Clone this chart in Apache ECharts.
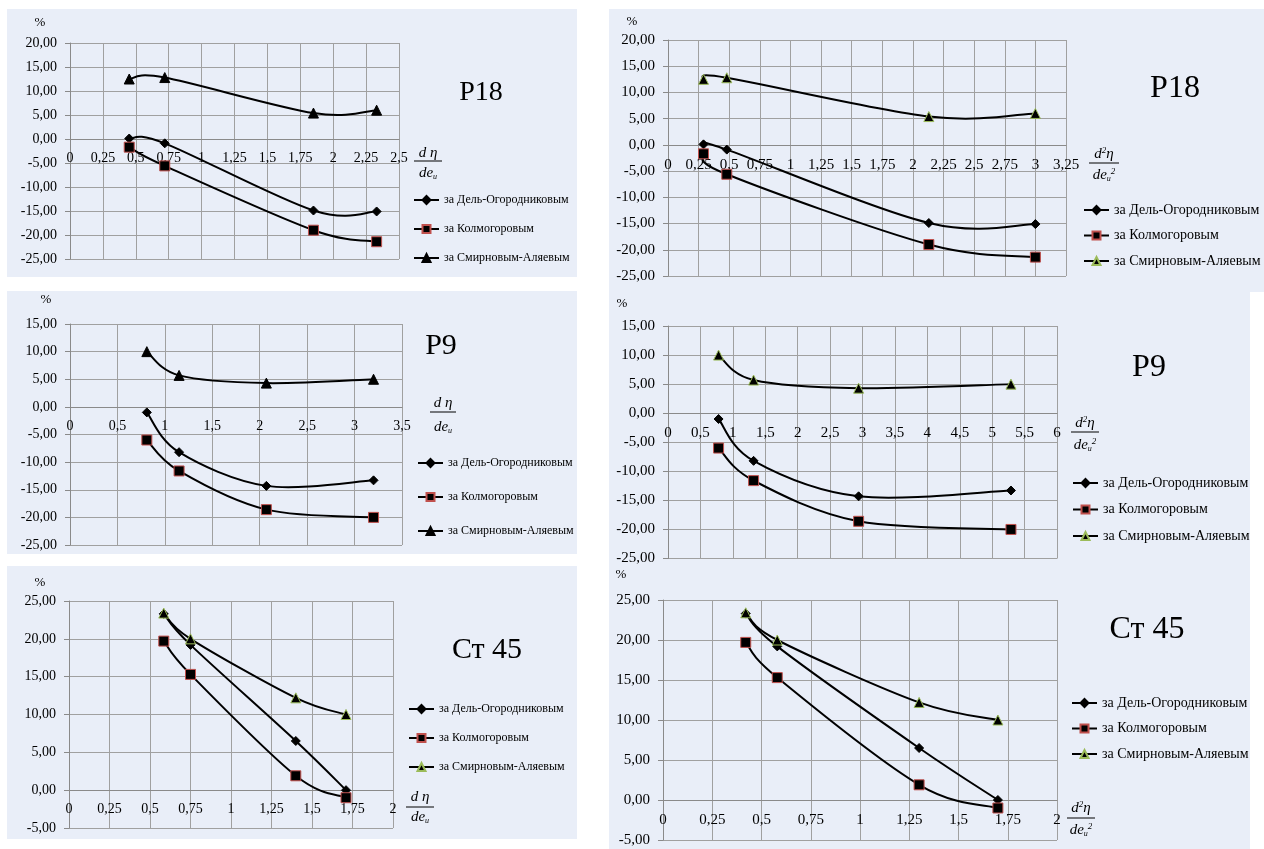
<!DOCTYPE html>
<html><head><meta charset="utf-8">
<script src="https://cdn.jsdelivr.net/npm/echarts@6/dist/echarts.min.js"></script>
<style>
html,body{margin:0;padding:0;background:#fff;width:1264px;height:849px;overflow:hidden;}
.p{position:absolute;background:#e9eef8;}
</style></head><body>
<div id="c1" class="p" style="left:7px;top:9px;width:570px;height:268px"></div>
<div id="c2" class="p" style="left:609px;top:9px;width:655px;height:283px"></div>
<div id="c3" class="p" style="left:7px;top:291px;width:570px;height:263px"></div>
<div id="c4" class="p" style="left:609px;top:292px;width:641px;height:274px"></div>
<div id="c5" class="p" style="left:7px;top:566px;width:570px;height:273px"></div>
<div id="c6" class="p" style="left:609px;top:566px;width:641px;height:283px"></div>
<script>
// ---- data ----
const SERIES_NAMES = ['за Дель-Огородниковым', 'за Колмогоровым', 'за Смирновым-Аляевым'];
const TITLES = ['Р18', 'Р9', 'Ст 45'];

const P18_X_A = [0.45, 0.72, 1.85, 2.33];
const P18_X_B = [0.29, 0.48, 2.13, 3.0];
const P18_DEL = [0.1, -0.9, -14.9, -15.1];
const P18_KOL = [-1.7, -5.6, -19.0, -21.4];
const P18_SMI = [12.5, 12.8, 5.4, 6.0];

const P9_X_A = [0.81, 1.15, 2.07, 3.2];
const P9_X_B = [0.78, 1.32, 2.94, 5.29];
const P9_DEL = [-1.0, -8.2, -14.3, -13.3];
const P9_KOL = [-6.0, -11.6, -18.6, -20.0];
const P9_SMI = [10.0, 5.7, 4.3, 5.0];

const ST45_X_A = [0.585, 0.75, 1.40, 1.71];
const ST45_X_B = [0.42, 0.58, 1.30, 1.70];
const ST45_DEL = [23.3, 19.2, 6.5, 0.0];
const ST45_KOL = [19.7, 15.3, 1.9, -1.0];
const ST45_SMI = [23.4, 20.0, 12.2, 10.0];

// axis ranges [min, max, interval]
const X_RANGE_P18_A = [0, 2.5, 0.25];
const X_RANGE_P18_B = [0, 3.25, 0.25];
const X_RANGE_P9_A = [0, 3.5, 0.5];
const X_RANGE_P9_B = [0, 6, 0.5];
const X_RANGE_ST45 = [0, 2, 0.25];
const Y_RANGE_P18 = [-25, 20, 5];
const Y_RANGE_P9 = [-25, 15, 5];
const Y_RANGE_ST45 = [-5, 25, 5];

const FONT = '"Liberation Serif", "Times New Roman", serif';

// smooth curve through the points (Excel-like Catmull-Rom), drawn via the chart's own scales
function curve(xs, ys, key) {
  const n = xs.length;
  return {
    type: 'custom', name: 'curve-' + key, silent: true, z: 1, clip: true,
    data: xs.map((x, i) => [x, ys[i]]),
    renderItem: (params, api) => {
      const i = params.dataIndex;
      if (i >= n - 1) return null;
      const P = j => { const k = Math.max(0, Math.min(n - 1, j)); return api.coord([xs[k], ys[k]]); };
      const p0 = P(i - 1), p1 = P(i), p2 = P(i + 1), p3 = P(i + 2);
      const t = 1 / 6;
      return {
        type: 'bezierCurve',
        shape: {
          x1: p1[0], y1: p1[1], x2: p2[0], y2: p2[1],
          cpx1: p1[0] + (p2[0] - p0[0]) * t, cpy1: p1[1] + (p2[1] - p0[1]) * t,
          cpx2: p2[0] - (p3[0] - p1[0]) * t, cpy2: p2[1] - (p3[1] - p1[1]) * t
        },
        style: {stroke: '#000', lineWidth: 2, fill: 'none'}
      };
    }
  };
}

function panel(id, o) {
  const chart = echarts.init(document.getElementById(id), null, {renderer: 'canvas'});
  const mk = (name, xs, ys, sym, size, border) => ({
    name, type: 'line', data: xs.map((x, i) => [x, ys[i]]), smooth: false, z: 3,
    symbol: sym, symbolSize: size, showSymbol: true,
    lineStyle: {color: '#000', width: 2, opacity: 0},
    itemStyle: {color: '#000', borderColor: border, borderWidth: 1},
    emphasis: {disabled: true}
  });
  const triBorder = o.greenTri ? '#9bbb59' : '#000';
  const rich = {
    i: {fontFamily: FONT, fontStyle: 'italic', fontSize: 15, color: '#000'},
    sup: {fontFamily: FONT, fontStyle: 'italic', fontSize: 9, color: '#000', verticalAlign: 'top'},
    sub: {fontFamily: FONT, fontStyle: 'italic', fontSize: 8, color: '#000', verticalAlign: 'bottom', padding: [6, 0, 0, 0]}
  };
  const f = o.frac;
  const gh = o.grid[3];
  const zeroOffset = -gh * (0 - o.yr[0]) / (o.yr[1] - o.yr[0]);
  const legendLine = {color: '#000', width: 2, opacity: 1};
  chart.setOption({
    animation: false,
    grid: {left: o.grid[0], top: o.grid[1], width: o.grid[2], height: o.grid[3], containLabel: false},
    xAxis: {
      type: 'value', min: o.xr[0], max: o.xr[1], interval: o.xr[2],
      position: 'bottom', offset: zeroOffset,
      axisLine: {onZero: false, lineStyle: {color: '#8a8a8a', width: 1}},
      axisTick: {show: false},
      splitLine: {show: true, lineStyle: {color: '#a0a0a0', width: 1}},
      axisLabel: {fontFamily: FONT, fontSize: o.fs, color: '#000', margin: o.xm,
        formatter: v => String(+v.toFixed(2)).replace('.', ',')}
    },
    yAxis: {
      type: 'value', min: o.yr[0], max: o.yr[1], interval: o.yr[2],
      axisLine: {show: true, onZero: false, lineStyle: {color: '#8a8a8a', width: 1}},
      axisTick: {show: true, length: 5, lineStyle: {color: '#8a8a8a'}},
      splitLine: {show: true, lineStyle: {color: '#a0a0a0', width: 1}},
      axisLabel: {fontFamily: FONT, fontSize: o.fs, color: '#000', margin: 13,
        formatter: v => v.toFixed(2).replace('.', ',')}
    },
    legend: {
      orient: 'vertical', left: o.leg[0], top: o.leg[1], itemGap: o.leg[2],
      itemWidth: 25, itemHeight: 10, padding: 0,
      lineStyle: legendLine,
      textStyle: {fontFamily: FONT, fontSize: o.lfs, color: '#000', lineHeight: 14},
      data: SERIES_NAMES.map(name => ({name, lineStyle: legendLine}))
    },
    graphic: [
      {type: 'text', x: o.title[0], y: o.title[1], silent: true,
        style: {text: o.titleText, fontFamily: FONT, fontSize: o.title[2], fill: '#000', align: 'center', verticalAlign: 'middle'}},
      {type: 'text', x: o.pct[0], y: o.pct[1], silent: true,
        style: {text: '%', fontFamily: FONT, fontSize: 13, fill: '#000', align: 'center', verticalAlign: 'middle'}},
      {type: 'text', x: f[0], y: f[1], silent: true,
        style: {text: o.num, rich, fontFamily: FONT, fontStyle: 'italic', fontSize: 15, fill: '#000', align: 'center', verticalAlign: 'middle'}},
      {type: 'line', silent: true, shape: {x1: f[0] - f[3], y1: f[2], x2: f[0] + f[3], y2: f[2]}, style: {stroke: '#000', lineWidth: 1}},
      {type: 'text', x: f[0], y: f[4], silent: true,
        style: {text: o.den, rich, fontFamily: FONT, fontStyle: 'italic', fontSize: 15, fill: '#000', align: 'center', verticalAlign: 'middle'}}
    ],
    series: [
      curve(o.xs, o.ys[0], 0),
      curve(o.xs, o.ys[1], 1),
      curve(o.xs, o.ys[2], 2),
      mk(SERIES_NAMES[0], o.xs, o.ys[0], 'diamond', 9, '#000'),
      mk(SERIES_NAMES[1], o.xs, o.ys[1], 'rect', 10, '#c0504d'),
      mk(SERIES_NAMES[2], o.xs, o.ys[2], 'triangle', 10, triBorder)
    ]
  });
}

const NUM_A = '{i|d η}';
const DEN_A = '{i|de}{sub|и}';
const NUM_B = '{i|d}{sup|2}{i|η}';
const DEN_B = '{i|de}{sub|и}{sup|2}';

panel('c1', {xs: P18_X_A, ys: [P18_DEL, P18_KOL, P18_SMI], xr: X_RANGE_P18_A, yr: Y_RANGE_P18,
  grid: [63, 34, 329, 216], fs: 14, xm: 12, lfs: 12, leg: [406, 184, 15],
  title: [474, 84, 28], titleText: TITLES[0], pct: [33, 14],
  frac: [421, 144, 152, 14, 164], num: NUM_A, den: DEN_A, greenTri: false});
panel('c2', {xs: P18_X_B, ys: [P18_DEL, P18_KOL, P18_SMI], xr: X_RANGE_P18_B, yr: Y_RANGE_P18,
  grid: [59, 31, 398, 236], fs: 15, xm: 13, lfs: 14, leg: [474, 194, 11.5],
  title: [566, 80, 32], titleText: TITLES[0], pct: [23, 13],
  frac: [495, 145, 154, 15, 166], num: NUM_B, den: DEN_B, greenTri: true});
panel('c3', {xs: P9_X_A, ys: [P9_DEL, P9_KOL, P9_SMI], xr: X_RANGE_P9_A, yr: Y_RANGE_P9,
  grid: [63, 33, 332, 221], fs: 14, xm: 12, lfs: 12, leg: [410, 165, 20],
  title: [434, 55, 30], titleText: TITLES[1], pct: [39, 9],
  frac: [436, 112, 121, 13, 136], num: NUM_A, den: DEN_A, greenTri: false});
panel('c4', {xs: P9_X_B, ys: [P9_DEL, P9_KOL, P9_SMI], xr: X_RANGE_P9_B, yr: Y_RANGE_P9,
  grid: [59, 34, 389, 233], fs: 15, xm: 13, lfs: 14, leg: [463, 184, 12.5],
  title: [540, 76, 32], titleText: TITLES[1], pct: [13, 12],
  frac: [476, 131, 140, 14, 153], num: NUM_B, den: DEN_B, greenTri: true});
panel('c5', {xs: ST45_X_A, ys: [ST45_DEL, ST45_KOL, ST45_SMI], xr: X_RANGE_ST45, yr: Y_RANGE_ST45,
  grid: [62, 35, 324, 227], fs: 14, xm: 12, lfs: 12, leg: [401, 136, 15],
  title: [480, 84, 30], titleText: TITLES[2], pct: [33, 17],
  frac: [413, 231, 241, 14, 251], num: NUM_A, den: DEN_A, greenTri: true});
panel('c6', {xs: ST45_X_B, ys: [ST45_DEL, ST45_KOL, ST45_SMI], xr: X_RANGE_ST45, yr: Y_RANGE_ST45,
  grid: [54, 34, 394, 240], fs: 15, xm: 13, lfs: 14, leg: [462, 130, 11.5],
  title: [538, 64, 32], titleText: TITLES[2], pct: [12, 9],
  frac: [472, 242, 252, 14, 264], num: NUM_B, den: DEN_B, greenTri: true});
</script>
</body></html>
